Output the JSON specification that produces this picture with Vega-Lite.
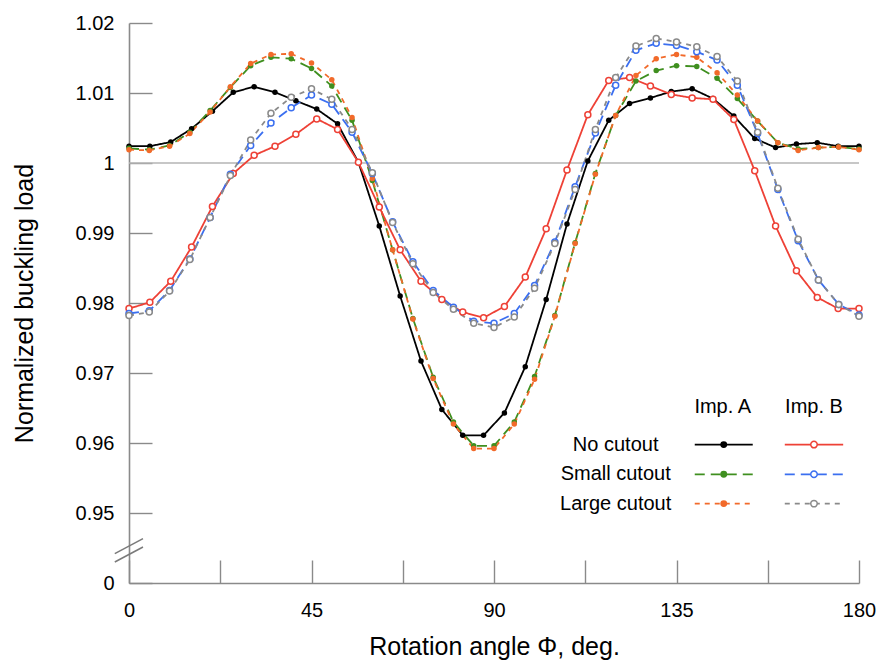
{
  "$schema": "https://vega.github.io/schema/vega-lite/v6.json",
  "width": 730,
  "height": 560,
  "autosize": {"type": "none"},
  "padding": {"left": 129, "top": 23, "right": 19, "bottom": 80},
  "config": {
    "view": {"stroke": null},
    "font": "Liberation Sans",
    "axis": {
      "domainColor": "#8a8a8a",
      "domainWidth": 1.6,
      "tickColor": "#8a8a8a",
      "tickWidth": 1.4,
      "grid": false,
      "labelFont": "Liberation Sans",
      "labelFontSize": 20,
      "labelColor": "#000000",
      "titleFont": "Liberation Sans",
      "titleFontSize": 25,
      "titleFontWeight": "normal",
      "titleColor": "#000000",
      "labelOverlap": false
    }
  },
  "datasets": {
    "curves": [
      {"s": "A No", "x": 0, "y": 1.0024}, {"s": "A No", "x": 5.14, "y": 1.0024}, {"s": "A No", "x": 10.29, "y": 1.0030},
      {"s": "A No", "x": 15.43, "y": 1.0049}, {"s": "A No", "x": 20.57, "y": 1.0074}, {"s": "A No", "x": 25.71, "y": 1.0101},
      {"s": "A No", "x": 30.86, "y": 1.0109}, {"s": "A No", "x": 36, "y": 1.0101}, {"s": "A No", "x": 41.14, "y": 1.0089},
      {"s": "A No", "x": 46.29, "y": 1.0077}, {"s": "A No", "x": 51.43, "y": 1.0056}, {"s": "A No", "x": 56.57, "y": 1.0001},
      {"s": "A No", "x": 61.71, "y": 0.9910}, {"s": "A No", "x": 66.86, "y": 0.9810}, {"s": "A No", "x": 72, "y": 0.9717},
      {"s": "A No", "x": 77.14, "y": 0.9648}, {"s": "A No", "x": 82.29, "y": 0.9611}, {"s": "A No", "x": 87.43, "y": 0.9611},
      {"s": "A No", "x": 92.57, "y": 0.9643}, {"s": "A No", "x": 97.71, "y": 0.9709}, {"s": "A No", "x": 102.86, "y": 0.9805},
      {"s": "A No", "x": 108, "y": 0.9913}, {"s": "A No", "x": 113.14, "y": 1.0003}, {"s": "A No", "x": 118.29, "y": 1.0061},
      {"s": "A No", "x": 123.43, "y": 1.0085}, {"s": "A No", "x": 128.57, "y": 1.0093}, {"s": "A No", "x": 133.71, "y": 1.0102},
      {"s": "A No", "x": 138.86, "y": 1.0106}, {"s": "A No", "x": 144, "y": 1.0092}, {"s": "A No", "x": 149.14, "y": 1.0067},
      {"s": "A No", "x": 154.29, "y": 1.0035}, {"s": "A No", "x": 159.43, "y": 1.0022}, {"s": "A No", "x": 164.57, "y": 1.0027},
      {"s": "A No", "x": 169.71, "y": 1.0029}, {"s": "A No", "x": 174.86, "y": 1.0024}, {"s": "A No", "x": 180, "y": 1.0024},

      {"s": "A Small", "x": 0, "y": 1.0021}, {"s": "A Small", "x": 5, "y": 1.0019}, {"s": "A Small", "x": 10, "y": 1.0025},
      {"s": "A Small", "x": 15, "y": 1.0044}, {"s": "A Small", "x": 20, "y": 1.0075}, {"s": "A Small", "x": 25, "y": 1.0108},
      {"s": "A Small", "x": 30, "y": 1.0139}, {"s": "A Small", "x": 35, "y": 1.0151}, {"s": "A Small", "x": 40, "y": 1.0149},
      {"s": "A Small", "x": 45, "y": 1.0135}, {"s": "A Small", "x": 50, "y": 1.0110}, {"s": "A Small", "x": 55, "y": 1.0061},
      {"s": "A Small", "x": 60, "y": 0.9975}, {"s": "A Small", "x": 65, "y": 0.9876}, {"s": "A Small", "x": 70, "y": 0.9778},
      {"s": "A Small", "x": 75, "y": 0.9694}, {"s": "A Small", "x": 80, "y": 0.9630}, {"s": "A Small", "x": 85, "y": 0.9596},
      {"s": "A Small", "x": 90, "y": 0.9596}, {"s": "A Small", "x": 95, "y": 0.9630}, {"s": "A Small", "x": 100, "y": 0.9695},
      {"s": "A Small", "x": 105, "y": 0.9782}, {"s": "A Small", "x": 110, "y": 0.9886}, {"s": "A Small", "x": 115, "y": 0.9985},
      {"s": "A Small", "x": 120, "y": 1.0068}, {"s": "A Small", "x": 125, "y": 1.0117}, {"s": "A Small", "x": 130, "y": 1.0132},
      {"s": "A Small", "x": 135, "y": 1.0139}, {"s": "A Small", "x": 140, "y": 1.0138}, {"s": "A Small", "x": 145, "y": 1.0121},
      {"s": "A Small", "x": 150, "y": 1.0092}, {"s": "A Small", "x": 155, "y": 1.0060}, {"s": "A Small", "x": 160, "y": 1.0029},
      {"s": "A Small", "x": 165, "y": 1.0020}, {"s": "A Small", "x": 170, "y": 1.0022}, {"s": "A Small", "x": 175, "y": 1.0023},
      {"s": "A Small", "x": 180, "y": 1.0020},

      {"s": "A Large", "x": 0, "y": 1.0019}, {"s": "A Large", "x": 5, "y": 1.0018}, {"s": "A Large", "x": 10, "y": 1.0024},
      {"s": "A Large", "x": 15, "y": 1.0042}, {"s": "A Large", "x": 20, "y": 1.0073}, {"s": "A Large", "x": 25, "y": 1.0109},
      {"s": "A Large", "x": 30, "y": 1.0142}, {"s": "A Large", "x": 35, "y": 1.0155}, {"s": "A Large", "x": 40, "y": 1.0156},
      {"s": "A Large", "x": 45, "y": 1.0143}, {"s": "A Large", "x": 50, "y": 1.0119}, {"s": "A Large", "x": 55, "y": 1.0065},
      {"s": "A Large", "x": 60, "y": 0.9978}, {"s": "A Large", "x": 65, "y": 0.9876}, {"s": "A Large", "x": 70, "y": 0.9777},
      {"s": "A Large", "x": 75, "y": 0.9692}, {"s": "A Large", "x": 80, "y": 0.9627}, {"s": "A Large", "x": 85, "y": 0.9592},
      {"s": "A Large", "x": 90, "y": 0.9592}, {"s": "A Large", "x": 95, "y": 0.9627}, {"s": "A Large", "x": 100, "y": 0.9691},
      {"s": "A Large", "x": 105, "y": 0.9781}, {"s": "A Large", "x": 110, "y": 0.9885}, {"s": "A Large", "x": 115, "y": 0.9984},
      {"s": "A Large", "x": 120, "y": 1.0068}, {"s": "A Large", "x": 125, "y": 1.0125}, {"s": "A Large", "x": 130, "y": 1.0149},
      {"s": "A Large", "x": 135, "y": 1.0155}, {"s": "A Large", "x": 140, "y": 1.0151}, {"s": "A Large", "x": 145, "y": 1.0129},
      {"s": "A Large", "x": 150, "y": 1.0097}, {"s": "A Large", "x": 155, "y": 1.0060}, {"s": "A Large", "x": 160, "y": 1.0029},
      {"s": "A Large", "x": 165, "y": 1.0018}, {"s": "A Large", "x": 170, "y": 1.0022}, {"s": "A Large", "x": 175, "y": 1.0023},
      {"s": "A Large", "x": 180, "y": 1.0019},

      {"s": "B No", "x": 0, "y": 0.9792}, {"s": "B No", "x": 5.14, "y": 0.9801}, {"s": "B No", "x": 10.29, "y": 0.9831},
      {"s": "B No", "x": 15.43, "y": 0.9880}, {"s": "B No", "x": 20.57, "y": 0.9938}, {"s": "B No", "x": 25.71, "y": 0.9985},
      {"s": "B No", "x": 30.86, "y": 1.0011}, {"s": "B No", "x": 36, "y": 1.0024}, {"s": "B No", "x": 41.14, "y": 1.0041},
      {"s": "B No", "x": 46.29, "y": 1.0063}, {"s": "B No", "x": 51.43, "y": 1.0048}, {"s": "B No", "x": 56.57, "y": 1.0001},
      {"s": "B No", "x": 61.71, "y": 0.9937}, {"s": "B No", "x": 66.86, "y": 0.9876}, {"s": "B No", "x": 72, "y": 0.9831},
      {"s": "B No", "x": 77.14, "y": 0.9805}, {"s": "B No", "x": 82.29, "y": 0.9787}, {"s": "B No", "x": 87.43, "y": 0.9779},
      {"s": "B No", "x": 92.57, "y": 0.9795}, {"s": "B No", "x": 97.71, "y": 0.9837}, {"s": "B No", "x": 102.86, "y": 0.9906},
      {"s": "B No", "x": 108, "y": 0.9990}, {"s": "B No", "x": 113.14, "y": 1.0069}, {"s": "B No", "x": 118.29, "y": 1.0118},
      {"s": "B No", "x": 123.43, "y": 1.0122}, {"s": "B No", "x": 128.57, "y": 1.0110}, {"s": "B No", "x": 133.71, "y": 1.0098},
      {"s": "B No", "x": 138.86, "y": 1.0093}, {"s": "B No", "x": 144, "y": 1.0091}, {"s": "B No", "x": 149.14, "y": 1.0062},
      {"s": "B No", "x": 154.29, "y": 0.9989}, {"s": "B No", "x": 159.43, "y": 0.9910}, {"s": "B No", "x": 164.57, "y": 0.9846},
      {"s": "B No", "x": 169.71, "y": 0.9808}, {"s": "B No", "x": 174.86, "y": 0.9792}, {"s": "B No", "x": 180, "y": 0.9792},

      {"s": "B Small", "x": 0, "y": 0.9785}, {"s": "B Small", "x": 5, "y": 0.9789}, {"s": "B Small", "x": 10, "y": 0.9818},
      {"s": "B Small", "x": 15, "y": 0.9863}, {"s": "B Small", "x": 20, "y": 0.9922}, {"s": "B Small", "x": 25, "y": 0.9984},
      {"s": "B Small", "x": 30, "y": 1.0025}, {"s": "B Small", "x": 35, "y": 1.0057}, {"s": "B Small", "x": 40, "y": 1.0079},
      {"s": "B Small", "x": 45, "y": 1.0097}, {"s": "B Small", "x": 50, "y": 1.0084}, {"s": "B Small", "x": 55, "y": 1.0044},
      {"s": "B Small", "x": 60, "y": 0.9985}, {"s": "B Small", "x": 65, "y": 0.9916}, {"s": "B Small", "x": 70, "y": 0.9859},
      {"s": "B Small", "x": 75, "y": 0.9818}, {"s": "B Small", "x": 80, "y": 0.9794}, {"s": "B Small", "x": 85, "y": 0.9774},
      {"s": "B Small", "x": 90, "y": 0.9771}, {"s": "B Small", "x": 95, "y": 0.9785}, {"s": "B Small", "x": 100, "y": 0.9825},
      {"s": "B Small", "x": 105, "y": 0.9887}, {"s": "B Small", "x": 110, "y": 0.9966}, {"s": "B Small", "x": 115, "y": 1.0043},
      {"s": "B Small", "x": 120, "y": 1.0111}, {"s": "B Small", "x": 125, "y": 1.0161}, {"s": "B Small", "x": 130, "y": 1.0171},
      {"s": "B Small", "x": 135, "y": 1.0168}, {"s": "B Small", "x": 140, "y": 1.0159}, {"s": "B Small", "x": 145, "y": 1.0147},
      {"s": "B Small", "x": 150, "y": 1.0111}, {"s": "B Small", "x": 155, "y": 1.0042}, {"s": "B Small", "x": 160, "y": 0.9962},
      {"s": "B Small", "x": 165, "y": 0.9889}, {"s": "B Small", "x": 170, "y": 0.9833}, {"s": "B Small", "x": 175, "y": 0.9798},
      {"s": "B Small", "x": 180, "y": 0.9783},

      {"s": "B Large", "x": 0, "y": 0.9782}, {"s": "B Large", "x": 5, "y": 0.9787}, {"s": "B Large", "x": 10, "y": 0.9817},
      {"s": "B Large", "x": 15, "y": 0.9862}, {"s": "B Large", "x": 20, "y": 0.9922}, {"s": "B Large", "x": 25, "y": 0.9982},
      {"s": "B Large", "x": 30, "y": 1.0033}, {"s": "B Large", "x": 35, "y": 1.0071}, {"s": "B Large", "x": 40, "y": 1.0094},
      {"s": "B Large", "x": 45, "y": 1.0106}, {"s": "B Large", "x": 50, "y": 1.0091}, {"s": "B Large", "x": 55, "y": 1.0048},
      {"s": "B Large", "x": 60, "y": 0.9986}, {"s": "B Large", "x": 65, "y": 0.9915}, {"s": "B Large", "x": 70, "y": 0.9856},
      {"s": "B Large", "x": 75, "y": 0.9815}, {"s": "B Large", "x": 80, "y": 0.9791}, {"s": "B Large", "x": 85, "y": 0.9771},
      {"s": "B Large", "x": 90, "y": 0.9765}, {"s": "B Large", "x": 95, "y": 0.9780}, {"s": "B Large", "x": 100, "y": 0.9821},
      {"s": "B Large", "x": 105, "y": 0.9885}, {"s": "B Large", "x": 110, "y": 0.9962}, {"s": "B Large", "x": 115, "y": 1.0048},
      {"s": "B Large", "x": 120, "y": 1.0122}, {"s": "B Large", "x": 125, "y": 1.0167}, {"s": "B Large", "x": 130, "y": 1.0178},
      {"s": "B Large", "x": 135, "y": 1.0173}, {"s": "B Large", "x": 140, "y": 1.0166}, {"s": "B Large", "x": 145, "y": 1.0152},
      {"s": "B Large", "x": 150, "y": 1.0117}, {"s": "B Large", "x": 155, "y": 1.0044}, {"s": "B Large", "x": 160, "y": 0.9964},
      {"s": "B Large", "x": 165, "y": 0.9891}, {"s": "B Large", "x": 170, "y": 0.9833}, {"s": "B Large", "x": 175, "y": 0.9798},
      {"s": "B Large", "x": 180, "y": 0.9781}
    ],
    "legendKeys": [
      {"s": "A No", "x": 139.5, "x2": 153.8, "y": 0.95977},
      {"s": "A Small", "x": 139.5, "x2": 153.8, "y": 0.95553},
      {"s": "A Large", "x": 139.5, "x2": 153.8, "y": 0.95134},
      {"s": "B No", "x": 161.7, "x2": 176.1, "y": 0.95977},
      {"s": "B Small", "x": 161.7, "x2": 176.1, "y": 0.95553},
      {"s": "B Large", "x": 161.7, "x2": 176.1, "y": 0.95134}
    ],
    "legendDots": [
      {"s": "A No", "x": 146.65, "y": 0.95977},
      {"s": "A Small", "x": 146.65, "y": 0.95553},
      {"s": "A Large", "x": 146.65, "y": 0.95134},
      {"s": "B No", "x": 168.9, "y": 0.95977},
      {"s": "B Small", "x": 168.9, "y": 0.95553},
      {"s": "B Large", "x": 168.9, "y": 0.95134}
    ],
    "legendText": [
      {"label": "Imp. A", "x": 146.4, "y": 0.96514},
      {"label": "Imp. B", "x": 168.9, "y": 0.96514},
      {"label": "No cutout", "x": 120, "y": 0.95977},
      {"label": "Small cutout", "x": 120, "y": 0.95553},
      {"label": "Large cutout", "x": 120, "y": 0.95134}
    ],
    "breakMarks": [
      {"x": -3.5, "x2": 3.45, "y": 0.9442, "y2": 0.94634},
      {"x": -3.5, "x2": 3.45, "y": 0.9430, "y2": 0.94514}
    ],
    "reference": [{"x": 0, "x2": 180, "y": 1}]
  },
  "encoding": {
    "x": {
      "field": "x", "type": "quantitative",
      "scale": {"domain": [0, 180], "nice": false, "zero": false},
      "title": "Rotation angle Φ, deg.",
      "axis": {
        "values": [0, 22.5, 45, 67.5, 90, 112.5, 135, 157.5, 180],
        "labelExpr": "datum.value % 45 === 0 ? datum.label : ''",
        "labelFlush": false,
        "tickSize": -23,
        "labelPadding": 40,
        "titlePadding": 14
      }
    },
    "y": {
      "field": "y", "type": "quantitative",
      "scale": {"domain": [0.94, 1.02], "nice": false, "zero": false},
      "title": "Normalized buckling load",
      "axis": {
        "values": [0.94, 0.95, 0.96, 0.97, 0.98, 0.99, 1, 1.01, 1.02],
        "format": "~g",
        "labelExpr": "datum.value < 0.945 ? '0' : datum.label",
        "tickSize": -23,
        "labelPadding": 38,
        "titlePadding": 38
      }
    }
  },
  "layer": [
    {
      "data": {"name": "reference"},
      "mark": {"type": "rule", "color": "#b4b4b4", "strokeWidth": 1.3},
      "encoding": {"x2": {"field": "x2"}}
    },
    {
      "data": {"name": "breakMarks"},
      "mark": {"type": "rule", "color": "#7a7a7a", "strokeWidth": 1.5},
      "encoding": {"x2": {"field": "x2"}, "y2": {"field": "y2"}}
    },
    {
      "data": {"name": "curves"},
      "mark": {"type": "line", "strokeWidth": 1.8},
      "encoding": {
        "detail": {"field": "s"},
        "color": {
          "field": "s", "type": "nominal", "legend": null,
          "scale": {
            "domain": ["A No", "A Small", "A Large", "B No", "B Small", "B Large"],
            "range": ["#000000", "#3f8f1f", "#f26a2a", "#ee4136", "#3b6ff0", "#8a8a8a"]
          }
        },
        "strokeDash": {
          "field": "s", "type": "nominal", "legend": null,
          "scale": {
            "domain": ["A No", "A Small", "A Large", "B No", "B Small", "B Large"],
            "range": [[1, 0], [10, 6], [5, 5], [1, 0], [10, 6], [5, 5]]
          }
        }
      }
    },
    {
      "data": {"name": "curves"},
      "transform": [{"filter": "indexof(datum.s, 'A') === 0"}],
      "mark": {"type": "point", "shape": "circle", "filled": true, "size": 30, "opacity": 1},
      "encoding": {
        "color": {"field": "s", "type": "nominal", "legend": null}
      }
    },
    {
      "data": {"name": "curves"},
      "transform": [{"filter": "indexof(datum.s, 'B') === 0"}],
      "mark": {"type": "point", "shape": "circle", "filled": false, "fill": "#ffffff", "fillOpacity": 1, "size": 36, "strokeWidth": 1.5, "opacity": 1},
      "encoding": {
        "stroke": {"field": "s", "type": "nominal", "legend": null,
          "scale": {
            "domain": ["A No", "A Small", "A Large", "B No", "B Small", "B Large"],
            "range": ["#000000", "#3f8f1f", "#f26a2a", "#ee4136", "#3b6ff0", "#8a8a8a"]
          }
        }
      }
    },
    {
      "data": {"name": "legendKeys"},
      "mark": {"type": "rule", "strokeWidth": 1.8},
      "encoding": {
        "x2": {"field": "x2"},
        "color": {"field": "s", "type": "nominal", "legend": null},
        "strokeDash": {"field": "s", "type": "nominal", "legend": null}
      }
    },
    {
      "data": {"name": "legendDots"},
      "transform": [{"filter": "indexof(datum.s, 'A') === 0"}],
      "mark": {"type": "point", "shape": "circle", "filled": true, "size": 48, "opacity": 1},
      "encoding": {
        "color": {"field": "s", "type": "nominal", "legend": null}
      }
    },
    {
      "data": {"name": "legendDots"},
      "transform": [{"filter": "indexof(datum.s, 'B') === 0"}],
      "mark": {"type": "point", "shape": "circle", "filled": false, "fill": "#ffffff", "fillOpacity": 1, "size": 42, "strokeWidth": 1.5, "opacity": 1},
      "encoding": {
        "stroke": {"field": "s", "type": "nominal", "legend": null}
      }
    },
    {
      "data": {"name": "legendText"},
      "mark": {"type": "text", "fontSize": 20, "font": "Liberation Sans", "color": "#000000", "align": "center", "baseline": "middle"},
      "encoding": {
        "text": {"field": "label"}
      }
    }
  ]
}
